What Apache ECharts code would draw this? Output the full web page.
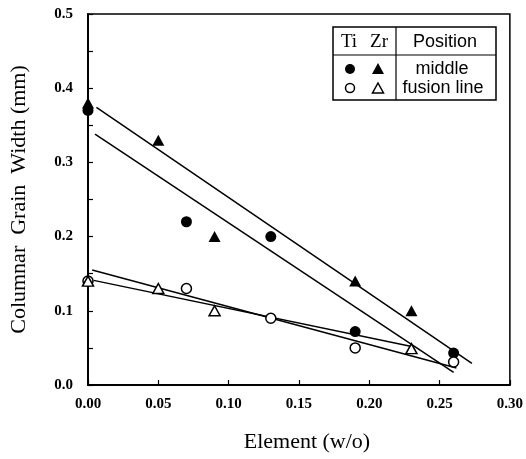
<!DOCTYPE html>
<html>
<head>
<meta charset="utf-8">
<script src="https://cdn.jsdelivr.net/npm/echarts@6/dist/echarts.min.js"></script>
<style>
  html, body { margin: 0; padding: 0; background: #fff; }
  #chart { width: 526px; height: 459px; }
</style>
</head>
<body>
<div id="chart"></div>
<script>
// Measured grain widths (mm) against element content (w/o)
const tiMiddleX = [0.00, 0.07, 0.13, 0.19, 0.26];
const tiMiddleY = [0.37, 0.22, 0.20, 0.072, 0.043];
const zrMiddleX = [0.00, 0.05, 0.09, 0.19, 0.23];
const zrMiddleY = [0.38, 0.33, 0.20, 0.14, 0.10];
const tiFusionX = [0.00, 0.07, 0.13, 0.19, 0.26];
const tiFusionY = [0.14, 0.13, 0.09, 0.05, 0.031];
const zrFusionX = [0.00, 0.05, 0.09, 0.23];
const zrFusionY = [0.14, 0.13, 0.10, 0.049];

// Straight-line fits: end points of each fitted line
const zrMiddleFitX = [0.006, 0.273];
const zrMiddleFitY = [0.374, 0.029];
const tiMiddleFitX = [0.005, 0.260];
const tiMiddleFitY = [0.338, 0.017];
const tiFusionFitX = [0.003, 0.262];
const tiFusionFitY = [0.155, 0.023];
const zrFusionFitX = [0.004, 0.231];
const zrFusionFitY = [0.141, 0.0516];

const pairs = (xs, ys) => xs.map((x, i) => [x, ys[i]]);

const serif = '"Liberation Serif", "Times New Roman", serif';
const sans = '"Liberation Sans", Arial, sans-serif';

const filled = { color: '#000', opacity: 1 };
const hollow = { color: '#fff', borderColor: '#000', borderWidth: 1.5, opacity: 1 };

function fitLine(name, xs, ys) {
  return {
    name, type: 'line', data: pairs(xs, ys), symbol: 'none', z: 2,
    lineStyle: { color: '#000', width: 1.5 }, silent: true, animation: false
  };
}
function points(name, xs, ys, symbol, size, style) {
  return {
    name, type: 'scatter', data: pairs(xs, ys), symbol, symbolSize: size,
    itemStyle: style, z: 5, clip: false, animation: false
  };
}

// Legend drawn as a small table: element symbols vs position
const lg = { l: 333, t: 27, r: 496, b: 100, split: 396, head: 55 };
const legendGraphic = [
  { type: 'rect', shape: { x: lg.l, y: lg.t, width: lg.r - lg.l, height: lg.b - lg.t },
    style: { fill: '#fff', stroke: '#000', lineWidth: 1.5 }, z: 10 },
  { type: 'line', shape: { x1: lg.l, y1: lg.head, x2: lg.r, y2: lg.head },
    style: { stroke: '#000', lineWidth: 1.2 }, z: 11 },
  { type: 'line', shape: { x1: lg.split, y1: lg.t, x2: lg.split, y2: lg.b },
    style: { stroke: '#000', lineWidth: 1.2 }, z: 11 },
  { type: 'text', x: 349, y: 42, style: { text: 'Ti', font: '19px ' + serif, fill: '#000', align: 'center', verticalAlign: 'middle' }, z: 11 },
  { type: 'text', x: 379, y: 42, style: { text: 'Zr', font: '19px ' + serif, fill: '#000', align: 'center', verticalAlign: 'middle' }, z: 11 },
  { type: 'text', x: 445, y: 42, style: { text: 'Position', font: '18px ' + sans, fill: '#000', align: 'center', verticalAlign: 'middle' }, z: 11 },
  { type: 'circle', shape: { cx: 350, cy: 69, r: 5 }, style: { fill: '#000' }, z: 11 },
  { type: 'polygon', shape: { points: [[378, 63], [384, 74], [372, 74]] }, style: { fill: '#000' }, z: 11 },
  { type: 'text', x: 442, y: 69, style: { text: 'middle', font: '18px ' + sans, fill: '#000', align: 'center', verticalAlign: 'middle' }, z: 11 },
  { type: 'circle', shape: { cx: 350, cy: 88, r: 4.5 }, style: { fill: '#fff', stroke: '#000', lineWidth: 1.5 }, z: 11 },
  { type: 'polygon', shape: { points: [[378, 83], [383.5, 93], [372.5, 93]] }, style: { fill: '#fff', stroke: '#000', lineWidth: 1.5 }, z: 11 },
  { type: 'text', x: 443, y: 88, style: { text: 'fusion line', font: '18px ' + sans, fill: '#000', align: 'center', verticalAlign: 'middle' }, z: 11 }
];

const chart = echarts.init(document.getElementById('chart'), null, { renderer: 'canvas' });
chart.setOption({
  backgroundColor: '#fff',
  animation: false,
  grid: { left: 88, right: 15, top: 14, bottom: 74, show: true, borderColor: '#000', borderWidth: 1.5 },
  xAxis: {
    type: 'value', min: 0, max: 0.3, interval: 0.05,
    name: 'Element (w/o)', nameLocation: 'middle', nameGap: 46,
    nameTextStyle: { fontFamily: serif, fontSize: 22, color: '#000', padding: [0, 0, 0, 16] },
    axisLine: { lineStyle: { color: '#000', width: 2 } },
    axisTick: { inside: true, length: 5, lineStyle: { color: '#000', width: 1.2 } },
    axisLabel: { formatter: v => v.toFixed(2), fontFamily: serif, fontWeight: 'bold', fontSize: 15, color: '#000', margin: 12 },
    splitLine: { show: false }
  },
  yAxis: {
    type: 'value', min: 0, max: 0.5, interval: 0.1,
    name: 'Columnar  Grain  Width (mm)', nameLocation: 'middle', nameGap: 58,
    nameTextStyle: { fontFamily: serif, fontSize: 22, color: '#000' },
    axisLine: { lineStyle: { color: '#000', width: 2 } },
    axisTick: { inside: true, length: 5, lineStyle: { color: '#000', width: 1.2 } },
    minorTick: { show: true, splitNumber: 2, length: 5, lineStyle: { color: '#000', width: 1.2 } },
    axisLabel: { formatter: v => v.toFixed(1), fontFamily: serif, fontWeight: 'bold', fontSize: 15, color: '#000', margin: 15 },
    splitLine: { show: false }
  },
  series: [
    fitLine('Zr middle fit', zrMiddleFitX, zrMiddleFitY),
    fitLine('Ti middle fit', tiMiddleFitX, tiMiddleFitY),
    fitLine('Ti fusion line fit', tiFusionFitX, tiFusionFitY),
    fitLine('Zr fusion line fit', zrFusionFitX, zrFusionFitY),
    points('Ti middle', tiMiddleX, tiMiddleY, 'circle', 11, filled),
    points('Zr middle', zrMiddleX, zrMiddleY, 'triangle', [12, 11], filled),
    points('Ti fusion line', tiFusionX, tiFusionY, 'circle', 10, hollow),
    points('Zr fusion line', zrFusionX, zrFusionY, 'triangle', [11, 10], hollow)
  ],
  graphic: legendGraphic
});
</script>
</body>
</html>
